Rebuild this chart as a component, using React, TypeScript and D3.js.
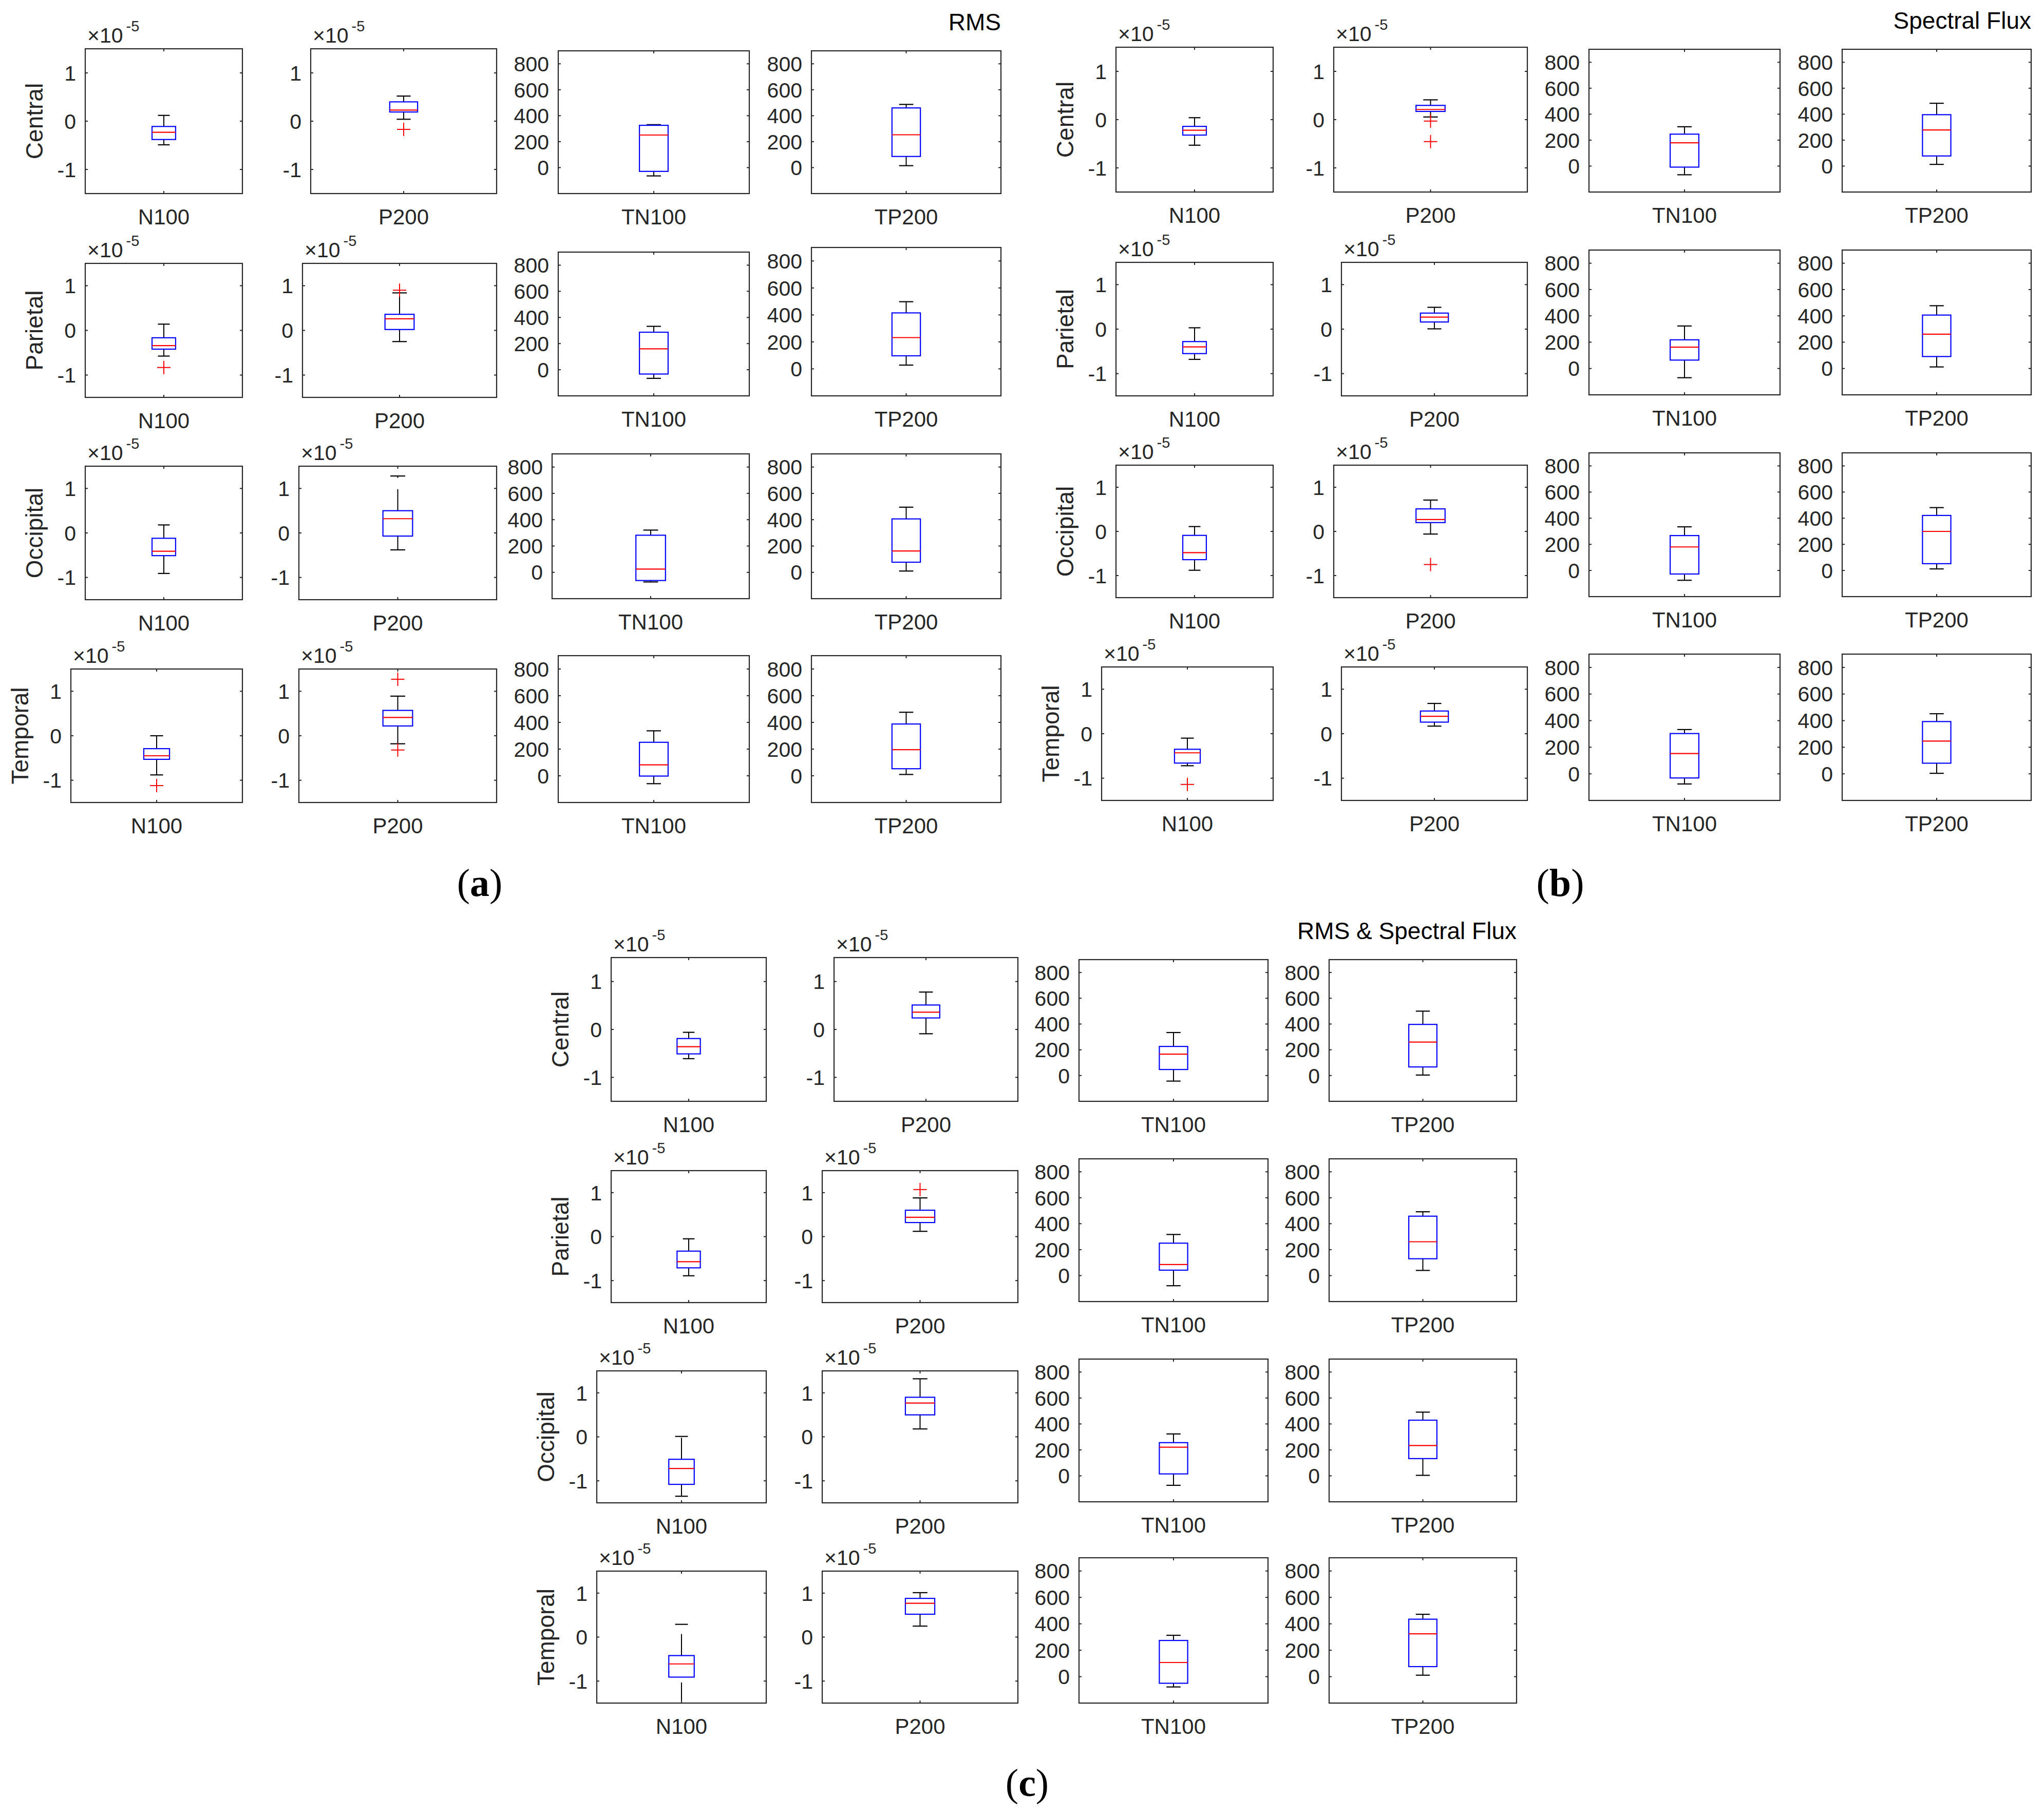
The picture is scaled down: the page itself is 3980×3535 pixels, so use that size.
import React from "react";
import * as d3 from "d3";

const W = 3980;
const H = 3535;

const groupTitles = ["RMS", "Spectral Flux", "RMS & Spectral Flux"];
const groupLetters = ["a", "b", "c"];
const regions = ["Central", "Parietal", "Occipital", "Temporal"];
const measures = ["N100", "P200", "TN100", "TP200"];
const ampTicks = [-1, 0, 1];
const latTicks = [0, 200, 400, 600, 800];
const ampDomain = [-1.5, 1.5];
const latDomain = [-200, 900];
const ampExponent = "-5";

// [lower whisker, q1, median, q3, upper whisker]; N100/P200 in units of 1e-5
const rmsStats = [
  [[-0.49, -0.38, -0.23, -0.11, 0.12], [0.04, 0.19, 0.23, 0.4, 0.52], [-64, -29, 251, 326, 331], [15, 86, 253, 460, 487]],
  [[-0.575, -0.42, -0.34, -0.165, 0.14], [-0.25, 0.02, 0.26, 0.36, 0.84], [-66, -33, 160, 287, 332], [28, 97, 232, 415, 498]],
  [[-0.91, -0.51, -0.41, -0.12, 0.18], [-0.38, -0.07, 0.32, 0.5, 1.28], [-73, -62, 25, 282, 321], [10, 77, 162, 406, 495]],
  [[-0.88, -0.53, -0.45, -0.29, 0.0], [-0.18, 0.22, 0.41, 0.57, 0.89], [-59, -2, 82, 251, 337], [10, 53, 196, 388, 476]],
];
const rmsOutliers = [
  [[], [-0.17], [], []],
  [[-0.83], [0.9], [], []],
  [[], [], [], []],
  [[-1.12], [1.27, -0.32], [], []],
];

const sfStats = [
  [[-0.53, -0.32, -0.22, -0.14, 0.04], [0.055, 0.17, 0.21, 0.295, 0.41], [-67, -8, 179, 246, 303], [13, 78, 278, 396, 484]],
  [[-0.68, -0.55, -0.4, -0.28, 0.03], [0.006, 0.16, 0.27, 0.36, 0.49], [-70, 64, 162, 218, 323], [12, 91, 261, 406, 477]],
  [[-0.88, -0.64, -0.48, -0.09, 0.11], [-0.06, 0.2, 0.27, 0.51, 0.71], [-75, -27, 180, 267, 334], [12, 52, 299, 421, 481]],
  [[-0.72, -0.66, -0.43, -0.35, -0.1], [0.17, 0.26, 0.39, 0.51, 0.68], [-76, -31, 153, 303, 333], [4, 80, 246, 393, 452]],
];
const sfOutliers = [
  [[], [-0.03, -0.455], [], []],
  [[], [], [], []],
  [[], [-0.75], [], []],
  [[-1.14], [], [], []],
];

const bothStats = [
  [[-0.61, -0.51, -0.36, -0.19, -0.06], [-0.09, 0.24, 0.36, 0.51, 0.78], [-43, 47, 166, 226, 334], [4, 67, 260, 397, 500]],
  [[-0.89, -0.71, -0.57, -0.33, -0.05], [0.12, 0.32, 0.44, 0.6, 0.88], [-78, 42, 85, 250, 317], [40, 130, 261, 458, 492]],
  [[-1.35, -1.08, -0.72, -0.51, 0.01], [0.18, 0.5, 0.77, 0.9, 1.32], [-73, 15, 221, 256, 323], [4, 133, 234, 429, 491]],
  [[-1.52, -0.91, -0.61, -0.42, 0.29], [0.25, 0.52, 0.77, 0.88, 1.01], [-78, -50, 107, 274, 313], [11, 76, 324, 435, 472]],
];
const bothOutliers = [
  [[], [], [], []],
  [[], [1.07], [], []],
  [[], [], [], []],
  [[], [], [], []],
];

const allStats = [rmsStats, sfStats, bothStats];
const allOutliers = [rmsOutliers, sfOutliers, bothOutliers];

// Layout: panel rectangles [left, right, top, bottom] in page pixels
const layout = [
  [
    [[166, 472, 95, 377], [605, 967, 95, 377], [1087, 1459, 99, 377], [1580, 1949, 99, 377]],
    [[166, 472, 513, 774], [589, 967, 513, 774], [1087, 1459, 491, 771], [1580, 1949, 482, 771]],
    [[166, 472, 908, 1168], [582, 967, 908, 1168], [1075, 1459, 884, 1166], [1580, 1949, 884, 1166]],
    [[138, 472, 1303, 1563], [582, 967, 1303, 1563], [1087, 1459, 1277, 1563], [1580, 1949, 1277, 1563]],
  ],
  [
    [[2173, 2479, 92, 374], [2597, 2974, 92, 374], [3094, 3466, 96, 374], [3587, 3955, 96, 374]],
    [[2173, 2479, 511, 771], [2612, 2974, 511, 771], [3094, 3466, 487, 769], [3587, 3955, 487, 769]],
    [[2173, 2479, 906, 1164], [2597, 2974, 906, 1164], [3094, 3466, 882, 1162], [3587, 3955, 882, 1162]],
    [[2145, 2479, 1299, 1559], [2612, 2974, 1299, 1559], [3094, 3466, 1274, 1559], [3587, 3955, 1274, 1559]],
  ],
  [
    [[1190, 1492, 1865, 2145], [1624, 1982, 1865, 2145], [2101, 2469, 1869, 2145], [2588, 2953, 1869, 2145]],
    [[1190, 1492, 2280, 2537], [1601, 1982, 2280, 2537], [2101, 2469, 2257, 2535], [2588, 2953, 2257, 2535]],
    [[1162, 1492, 2670, 2927], [1601, 1982, 2670, 2927], [2101, 2469, 2647, 2925], [2588, 2953, 2647, 2925]],
    [[1162, 1492, 3060, 3317], [1601, 1982, 3060, 3317], [2101, 2469, 3034, 3317], [2588, 2953, 3034, 3317]],
  ],
];
const letterPos = [[934, 1745], [3038, 1745], [2000, 3498]];

const FONT = "'Liberation Sans', Arial, Helvetica, sans-serif";
const AX = "#262626";
const TICK_FS = 41;
const LABEL_FS = 42;
const BIG_FS = 46;

function Panel({ g, r, c }) {
  const [l, rt, t, b] = layout[g][r][c];
  const isAmp = c < 2;
  const y = d3.scaleLinear().domain(isAmp ? ampDomain : latDomain).range([b, t]);
  const x = d3.scaleLinear().domain([0.5, 1.5]).range([l, rt]);
  const ticks = isAmp ? ampTicks : latTicks;
  const [lo, q1, med, q3, hi] = allStats[g][r][c];
  const outs = allOutliers[g][r][c];
  const boxHalf = 0.075;
  const capHalf = 0.0375;
  const clipId = `clip-${g}-${r}-${c}`;
  const tl = 5;
  const cx = x(1);
  return (
    <g>
      <defs>
        <clipPath id={clipId}>
          <rect x={l} y={t} width={rt - l} height={b - t} />
        </clipPath>
      </defs>
      <g clipPath={`url(#${clipId})`}>
        {/* whiskers drawn from the lower value upward */}
        <line x1={cx} x2={cx} y1={y(q3)} y2={y(hi)} stroke="#000" strokeWidth={2} strokeDasharray="42 22" />
        <line x1={cx} x2={cx} y1={y(lo)} y2={y(q1)} stroke="#000" strokeWidth={2} strokeDasharray="42 22" />
        <line x1={x(1 - capHalf)} x2={x(1 + capHalf)} y1={y(hi)} y2={y(hi)} stroke="#000" strokeWidth={2.2} />
        <line x1={x(1 - capHalf)} x2={x(1 + capHalf)} y1={y(lo)} y2={y(lo)} stroke="#000" strokeWidth={2.2} />
        <rect
          x={x(1 - boxHalf)}
          y={y(q3)}
          width={x(1 + boxHalf) - x(1 - boxHalf)}
          height={y(q1) - y(q3)}
          fill="none"
          stroke="#0000FF"
          strokeWidth={2.2}
        />
        <line x1={x(1 - boxHalf)} x2={x(1 + boxHalf)} y1={y(med)} y2={y(med)} stroke="#FF0000" strokeWidth={2.2} />
        {outs.map((o, i) => (
          <g key={i} stroke="#FF0000" strokeWidth={2}>
            <line x1={cx - 13} x2={cx + 13} y1={y(o)} y2={y(o)} />
            <line x1={cx} x2={cx} y1={y(o) - 13} y2={y(o) + 13} />
          </g>
        ))}
      </g>
      {/* axes box */}
      <rect x={l} y={t} width={rt - l} height={b - t} fill="none" stroke={AX} strokeWidth={2.2} />
      {/* y ticks */}
      {ticks.map((v) => (
        <g key={v}>
          <line x1={l} x2={l + tl} y1={y(v)} y2={y(v)} stroke={AX} strokeWidth={2} />
          <line x1={rt} x2={rt - tl} y1={y(v)} y2={y(v)} stroke={AX} strokeWidth={2} />
          <text x={l - 18} y={y(v) + TICK_FS * 0.36} textAnchor="end" fontFamily={FONT} fontSize={TICK_FS} fill={AX}>
            {String(v)}
          </text>
        </g>
      ))}
      {/* x ticks */}
      <line x1={cx} x2={cx} y1={b} y2={b - tl} stroke={AX} strokeWidth={2} />
      <line x1={cx} x2={cx} y1={t} y2={t + tl} stroke={AX} strokeWidth={2} />
      <text x={(l + rt) / 2} y={b + 60} textAnchor="middle" fontFamily={FONT} fontSize={LABEL_FS} fill={AX}>
        {measures[c]}
      </text>
      {isAmp && (
        <text x={l + 4} y={t - 12} fontFamily={FONT} fontSize={TICK_FS} fill={AX}>
          ×10
          <tspan dx={6} dy={-22} fontSize={29}>
            {ampExponent}
          </tspan>
        </text>
      )}
      {c === 0 && (
        <text
          transform={`translate(${l - 83},${(t + b) / 2}) rotate(-90)`}
          textAnchor="middle"
          fontFamily={FONT}
          fontSize={BIG_FS}
          fill={AX}
        >
          {regions[r]}
        </text>
      )}
      {c === 3 && r === 0 && (
        <text x={rt} y={t - 40} textAnchor="end" fontFamily={FONT} fontSize={BIG_FS} fill="#000">
          {groupTitles[g]}
        </text>
      )}
    </g>
  );
}

export default function App() {
  return (
    <svg
      width={W}
      height={H}
      viewBox={`0 0 ${W} ${H}`}
      style={{ position: "absolute", left: 0, top: 0, background: "#fff" }}
    >
      <rect x={0} y={0} width={W} height={H} fill="#fff" />
      {groupTitles.map((_, g) =>
        regions.map((__, r) => measures.map((___, c) => <Panel key={`${g}-${r}-${c}`} g={g} r={r} c={c} />))
      )}
      {groupLetters.map((letter, g) => (
        <text
          key={letter}
          x={letterPos[g][0]}
          y={letterPos[g][1]}
          textAnchor="middle"
          fontFamily="'Liberation Serif', 'DejaVu Serif', serif"
          fontSize={76}
          fill="#000"
        >
          (<tspan fontWeight="bold">{letter}</tspan>)
        </text>
      ))}
    </svg>
  );
}
